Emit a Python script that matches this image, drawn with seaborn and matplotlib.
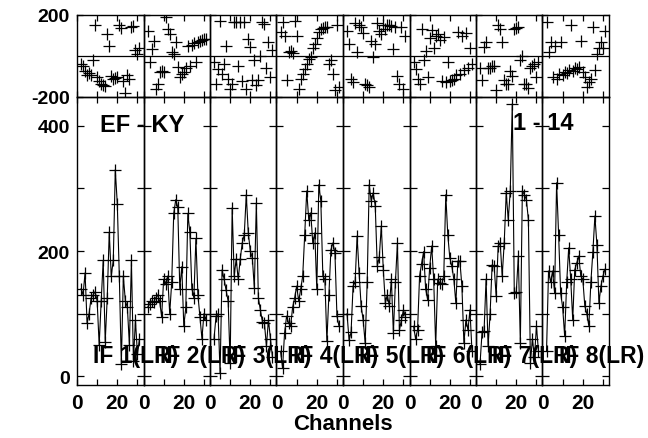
import numpy as np
import pandas as pd
import seaborn as sns
import matplotlib
matplotlib.use("Agg")
import matplotlib.pyplot as plt

channels = list(range(2, 32))
if_names = ["IF 1(LR)", "IF 2(LR)", "IF 3(LR)", "IF 4(LR)", "IF 5(LR)", "IF 6(LR)", "IF 7(LR)", "IF 8(LR)"]

# amplitude per IF, channels 2..31
amp_if1 = [140, 130, 165, 85, 100, 125, 130, 135, 120, 50, 120, 185, 55, 125, 230, 160, 185, 330, 275, 160, 20, 160, 120, 110, 50, 185, 25, 90, 35, 60]
amp_if2 = [110, 115, 120, 118, 125, 130, 120, 95, 155, 148, 160, 100, 150, 260, 282, 270, 140, 175, 80, 110, 260, 230, 140, 125, 220, 130, 95, 60, 100, 90]
amp_if3 = [60, 96, 100, 5, 170, 155, 137, 120, 21, 269, 160, 187, 155, 187, 213, 226, 290, 229, 200, 189, 141, 277, 125, 106, 87, 85, 48, 90, 60, 30]
amp_if4 = [40, 13, 69, 96, 85, 80, 110, 125, 144, 120, 139, 160, 226, 296, 250, 261, 213, 229, 139, 306, 280, 160, 155, 56, 130, 202, 213, 197, 96, 80]
amp_if5 = [100, 58, 70, 144, 150, 224, 165, 112, 90, 53, 150, 306, 280, 293, 272, 176, 190, 240, 170, 117, 130, 112, 155, 69, 150, 213, 74, 90, 106, 95]
amp_if6 = [80, 60, 74, 160, 180, 199, 140, 122, 173, 208, 155, 48, 155, 149, 147, 160, 290, 226, 189, 176, 155, 117, 184, 184, 144, 53, 90, 74, 106, 40]
amp_if7 = [20, 70, 72, 155, 48, 100, 178, 176, 128, 208, 213, 160, 213, 293, 250, 296, 435, 133, 135, 192, 53, 296, 290, 282, 250, 21, 60, 30, 80, 40]
amp_if8 = [40, 168, 150, 168, 133, 309, 226, 133, 110, 64, 150, 205, 155, 90, 170, 181, 192, 160, 155, 112, 100, 80, 150, 199, 256, 210, 117, 144, 160, 171]

# phase (degrees) per IF, channels 2..31
ph_if1 = [-40, -50, -75, -91, -85, -95, -18, 153, -100, -124, -135, -140, -148, 105, 47, -99, -110, -107, -100, 153, 137, -124, -180, -91, -110, 140, 145, 31, 12, 40]
ph_if2 = [122, -29, 34, 73, -161, -137, -78, -75, -80, 190, 132, 107, 20, 10, 68, -54, -102, -90, -78, -60, 49, -49, 55, 62, -29, 70, 75, 80, 83, 85]
ph_if3 = [-29, -137, -63, 172, -90, -40, 48, -110, -161, -137, 166, 166, -49, 166, -122, 166, -161, 83, 44, -117, -20, -140, -117, 0, 166, 156, -58, 68, -100, 30]
ph_if4 = [117, 166, 100, -117, 20, 25, 15, 172, 98, -161, -112, -90, -63, -40, -15, -5, 39, 60, 90, 117, 130, 135, 140, 140, -40, -20, -90, -166, 150, -150]
ph_if5 = [120, 60, -112, -127, 161, 20, 151, 140, 110, -137, -140, -151, 73, -5, 60, 161, 120, 107, 151, 130, 150, 151, 145, 34, 141, -98, -137, 141, -161, 100]
ph_if6 = [-30, -63, -112, -137, 132, -20, 24, -102, 90, 127, 39, 100, 107, 80, -122, 95, -127, -29, -122, -115, -110, -95, 117, -90, 98, -70, 110, -60, 40, -40]
ph_if7 = [-58, -117, 44, 68, -58, -60, -49, -50, -166, 151, 132, 68, -117, -137, -137, -75, -98, 132, 137, 140, -20, 0, -137, -137, -156, -60, -49, -40, -100, -30]
ph_if8 = [166, 20, 68, -102, 48, -110, -90, 68, -95, -78, -85, -70, 151, -75, -60, -65, -54, 73, -80, -102, -151, -127, -110, 140, -70, 10, 40, 68, 40, 120]

amps = [amp_if1, amp_if2, amp_if3, amp_if4, amp_if5, amp_if6, amp_if7, amp_if8]
phases = [ph_if1, ph_if2, ph_if3, ph_if4, ph_if5, ph_if6, ph_if7, ph_if8]

rows = []
for k in range(8):
    for c, a, p in zip(channels, amps[k], phases[k]):
        rows.append({"IF": k, "channel": c, "amp": a, "phase": p})
df = pd.DataFrame(rows)

sns.set_style("ticks")
plt.rcParams["font.family"] = ["Liberation Sans", "DejaVu Sans"]
plt.rcParams["font.weight"] = "bold"
plt.rcParams["text.color"] = "black"
plt.rcParams["xtick.color"] = "black"
plt.rcParams["ytick.color"] = "black"
plt.rcParams["xtick.labelcolor"] = "black"
plt.rcParams["ytick.labelcolor"] = "black"

fig, axes = plt.subplots(2, 8, figsize=(6.48, 4.39), dpi=100,
                         gridspec_kw={"height_ratios": [82, 288], "wspace": 0, "hspace": 0})
fig.subplots_adjust(left=77/648, right=609/648, top=1-16/439, bottom=1-386/439)

for k in range(8):
    sub = df[df["IF"] == k]
    axp = axes[0, k]
    axa = axes[1, k]
    for ax in (axp, axa):
        ax.set_facecolor("none")
        for s in ax.spines.values():
            s.set_linewidth(1.0)
            s.set_color("black")
        ax.set_xlim(0, 33)
        ax.set_xticks([0, 10, 20, 30])
        ax.tick_params(direction="in", top=True, right=True, length=4, width=0.9, color="black")

    sns.scatterplot(data=sub, x="channel", y="phase", marker="+", s=80, color="black",
                    linewidth=0.9, ax=axp, legend=False)
    axp.axhline(0, color="black", lw=0.9)
    axp.set_ylim(-200, 200)
    axp.set_yticks([-200, 200])
    axp.set_xticklabels([])
    axp.set_xlabel("")
    axp.set_ylabel("")

    sns.lineplot(data=sub, x="channel", y="amp", color="black", lw=0.8, marker="+", ms=9,
                 mew=0.9, mec="black", ax=axa, legend=False)
    axa.set_ylim(-14, 446)
    axa.set_yticks([0, 100, 200, 300, 400])
    axa.set_xticklabels(["0", "", "20", ""], fontsize=15, fontweight="bold", color="black")
    axa.tick_params(axis="x", pad=6)
    axa.set_xlabel("")
    axa.set_ylabel("")
    axa.tick_params(axis="y", length=5)

    if k == 0:
        axp.set_yticklabels(["-200", "200"], fontsize=14, fontweight="bold", color="black")
        axa.set_yticklabels(["0", "", "200", "", "400"], fontsize=14, fontweight="bold", color="black")
        axp.tick_params(axis="y", pad=5)
        axa.tick_params(axis="y", pad=5)
    else:
        axp.set_yticklabels([])
        axa.set_yticklabels([])

    axa.text(8, 22, if_names[k], fontsize=16.5, fontweight="bold", color="black",
             va="baseline", ha="left")

axes[1, 0].text(11.4, 392, "EF - KY", fontsize=17, fontweight="bold", color="black",
                va="baseline", ha="left")
axes[1, 6].text(18.4, 395, "1 - 14", fontsize=17, fontweight="bold", color="black",
                va="baseline", ha="left")

fig.text(343/648, 1-425/439, "Channels", fontsize=16, fontweight="bold", color="black",
         ha="center", va="center")

fig.savefig("out.png", dpi=100, facecolor="white")
